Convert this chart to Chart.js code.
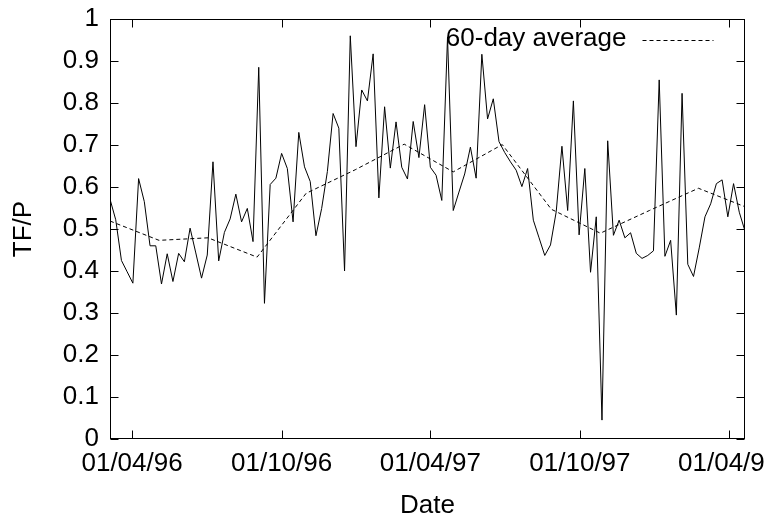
<!DOCTYPE html>
<html>
<head>
<meta charset="utf-8">
<title>TF/P</title>
<script src="https://cdn.jsdelivr.net/npm/chart.js@4/dist/chart.umd.min.js"></script>
<style>
  html, body { margin: 0; padding: 0; background: #fff; }
  canvas { display: block; }
</style>
</head>
<body>
<canvas id="tfpChart" width="764" height="521"></canvas>
<script>
// Weekly TF/P ratio with its 60-day average, plotted against date.

// Day 0 of the x axis
const START = Date.UTC(1996, 2, 5);
const DAY = 86400000;

// Weekly samples (one per 7 days from START)
const tfp = [
  0.571, 0.522, 0.425, 0.398, 0.371, 0.620, 0.565, 0.460, 0.460, 0.369,
  0.441, 0.375, 0.442, 0.422, 0.502, 0.443, 0.383, 0.438, 0.660, 0.424,
  0.492, 0.524, 0.583, 0.517, 0.549, 0.470, 0.885, 0.323, 0.606, 0.621,
  0.680, 0.644, 0.517, 0.730, 0.648, 0.613, 0.484, 0.549, 0.637, 0.775,
  0.740, 0.400, 0.960, 0.696, 0.831, 0.805, 0.917, 0.574, 0.791, 0.645,
  0.755, 0.647, 0.619, 0.756, 0.670, 0.796, 0.647, 0.628, 0.568, 0.957,
  0.544, 0.588, 0.631, 0.695, 0.621, 0.916, 0.762, 0.810, 0.708, 0.682,
  0.660, 0.640, 0.601, 0.644, 0.521, 0.479, 0.437, 0.462, 0.541, 0.697,
  0.544, 0.805, 0.486, 0.644, 0.397, 0.529, 0.045, 0.710, 0.485, 0.521,
  0.479, 0.491, 0.442, 0.430, 0.437, 0.448, 0.855, 0.435, 0.473, 0.295,
  0.823, 0.416, 0.387, 0.455, 0.529, 0.560, 0.608, 0.617, 0.529, 0.608,
  0.540, 0.495
];

// 60-day average, sampled at these day offsets
const avgDays = [0, 60, 120, 180, 240, 300, 360, 420, 480, 540, 600, 660, 720, 777];
const avg60 = [0.519, 0.473, 0.479, 0.433, 0.585, 0.641, 0.702, 0.636, 0.701, 0.547, 0.490, 0.544, 0.597, 0.553];

// x-axis tick dates and their labels
const tickDates = ["1996-04-01", "1996-10-01", "1997-04-01", "1997-10-01", "1998-04-01"];
const tickLabels = ["01/04/96", "01/10/96", "01/04/97", "01/10/97", "01/04/98"];

const tickDays = tickDates.map(d => Math.round((Date.parse(d + "T00:00:00Z") - START) / DAY));

const FONT = { family: "'Liberation Sans', Arial, Helvetica, sans-serif", size: 26 };
const TICK_LEN = 8;

// frame, inward tick marks on all four sides, and the key for the dashed series
const gnuplotFrame = {
  id: "gnuplotFrame",
  afterDraw(chart) {
    const { ctx, chartArea: a, scales } = chart;
    ctx.save();
    ctx.strokeStyle = "#000";
    ctx.lineWidth = 1;
    ctx.setLineDash([]);
    const L = Math.round(a.left) + 0.5, R = Math.round(a.right) - 0.5;
    const T = Math.round(a.top) + 0.5, B = Math.round(a.bottom) - 0.5;
    ctx.strokeRect(L, T, R - L, B - T);

    ctx.beginPath();
    scales.x.ticks.forEach(t => {
      const px = Math.round(scales.x.getPixelForValue(t.value)) + 0.5;
      ctx.moveTo(px, B); ctx.lineTo(px, B - TICK_LEN);
      ctx.moveTo(px, T); ctx.lineTo(px, T + TICK_LEN);
    });
    scales.y.ticks.forEach(t => {
      const py = Math.round(scales.y.getPixelForValue(t.value)) + 0.5;
      ctx.moveTo(L, py); ctx.lineTo(L + TICK_LEN, py);
      ctx.moveTo(R, py); ctx.lineTo(R - TICK_LEN, py);
    });
    ctx.stroke();

    // key: label text, then a dashed sample line
    const ds = chart.data.datasets[1];
    const keyRight = R - 31;
    const keyY = Math.round(a.top) + 21.5;
    ctx.font = `${FONT.size}px ${FONT.family}`;
    ctx.fillStyle = "#000";
    ctx.textAlign = "right";
    ctx.textBaseline = "middle";
    ctx.fillText(ds.label, keyRight - 87, keyY - 2);
    ctx.setLineDash(ds.borderDash);
    ctx.beginPath();
    ctx.moveTo(keyRight - 71, keyY);
    ctx.lineTo(keyRight, keyY);
    ctx.stroke();
    ctx.restore();
  }
};

new Chart(document.getElementById("tfpChart"), {
  type: "line",
  data: {
    datasets: [
      {
        label: "TF/P",
        data: tfp.map((v, i) => ({ x: i * 7, y: v })),
        borderColor: "#000",
        borderWidth: 1,
        pointRadius: 0,
        tension: 0
      },
      {
        label: "60-day average",
        data: avg60.map((v, i) => ({ x: avgDays[i], y: v })),
        borderColor: "#000",
        borderWidth: 1,
        borderDash: [4, 3],
        pointRadius: 0,
        tension: 0
      }
    ]
  },
  options: {
    responsive: false,
    animation: false,
    devicePixelRatio: 1,
    layout: { padding: { top: 19, right: 19, left: 0, bottom: 0 } },
    plugins: {
      legend: { display: false },
      tooltip: { enabled: false }
    },
    scales: {
      x: {
        type: "linear",
        min: 0,
        max: 777,
        grid: { display: false, drawTicks: false },
        border: { display: false },
        afterBuildTicks: scale => { scale.ticks = tickDays.map(v => ({ value: v })); },
        afterFit: scale => { scale.height = 82; scale.paddingLeft = 0; scale.paddingRight = 0; },
        ticks: {
          autoSkip: false,
          maxRotation: 0,
          minRotation: 0,
          padding: 9,
          color: "#000",
          font: FONT,
          callback: v => tickLabels[tickDays.indexOf(v)]
        },
        title: { display: true, text: "Date", color: "#000", font: FONT, padding: { top: 0, bottom: 0 } }
      },
      y: {
        min: 0,
        max: 1,
        grid: { display: false, drawTicks: false },
        border: { display: false },
        afterFit: scale => { scale.width = 110; scale.paddingTop = 0; scale.paddingBottom = 0; },
        ticks: {
          stepSize: 0.1,
          padding: 11,
          color: "#000",
          font: FONT,
          callback: v => String(+v.toFixed(1))
        },
        title: { display: true, text: "TF/P", color: "#000", font: FONT, padding: { top: 8, bottom: 0 } }
      }
    }
  },
  plugins: [gnuplotFrame]
});
</script>
</body>
</html>
